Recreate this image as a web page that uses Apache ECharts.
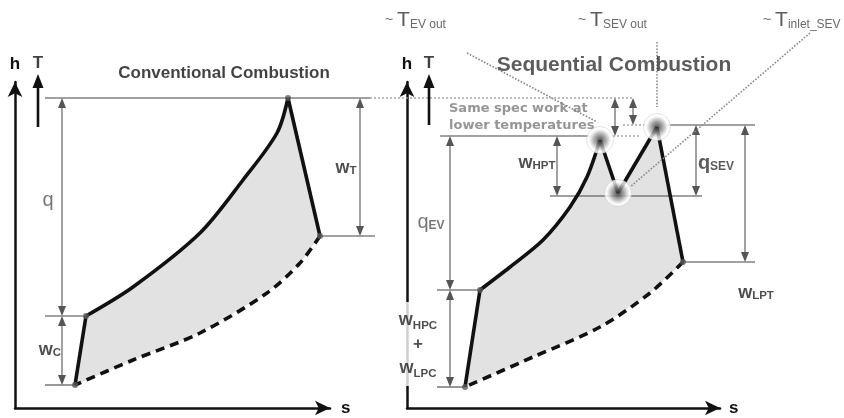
<!DOCTYPE html>
<html>
<head>
<meta charset="utf-8">
<script src="https://cdn.jsdelivr.net/npm/echarts@6/dist/echarts.min.js"></script>
<style>
  html, body { margin: 0; padding: 0; background: #ffffff; }
  #chart { width: 844px; height: 418px; }
</style>
</head>
<body>
<div id="chart"></div>
<script>
// ---- Conventional combustion cycle (h–s plane, diagram units) ----
const convCompression   = [[60, 23], [71, 92]];
const convHeatAddition  = [[71, 92], [118, 121], [185, 175], [228, 228], [262, 275], [273, 310]];
const convExpansion     = [[273, 310], [305, 172]];
const convHeatRejection = [[305, 172], [285, 145], [252, 115], [185, 75], [118, 48], [60, 23]];
const convStates        = [[60, 23], [71, 92], [273, 310], [305, 172]];

// ---- Sequential combustion cycle ----
const seqCompression    = [[58, 21], [73, 118]];
const seqHeatEV         = [[73, 118], [103, 141], [136, 168], [163, 201], [180, 231], [193, 268]];
const seqExpansionHPT   = [[193, 268], [211, 215]];
const seqHeatSEV        = [[211, 215], [250, 281]];
const seqExpansionLPT   = [[250, 281], [276, 146]];
const seqHeatRejection  = [[276, 146], [243, 115], [193, 81], [126, 51], [58, 21]];
const seqStates         = [[73, 118], [276, 146], [58, 21]];
const seqBurnerPoints   = [[193, 268], [250, 281], [211, 215]];

// ---- Reference levels: [sFrom, sTo, h] ----
const convLevels  = [[30, 355, 310], [30, 71, 92], [30, 60, 23], [305, 360, 172]];
const convGuides  = [[355, 618, 310]];
const seqLevels   = [[33, 183, 272], [261, 348, 283], [143, 295, 212], [276, 348, 146], [30, 73, 118], [30, 58, 21]];
const seqGuides   = [[206, 233, 272], [216, 240, 283]];

// ---- Dimension arrows: [s, hTop, hBottom] ----
const convSpans = [[47, 310, 92], [47, 92, 23], [345, 310, 172]];
const seqSpans  = [[43, 272, 118], [43, 118, 21], [150, 272, 212], [289, 283, 212], [338, 283, 146], [208, 310, 272], [226, 310, 283]];

// ---- Temperature axes: [s, hFrom, hTo] ----
const convTAxis = [[23, 281, 334]];
const seqTAxis  = [[22, 283, 334]];

// ---- Leader lines to the burner temperatures: [s1, h1, s2, h2] ----
const seqLeaders = [[60, 355, 190, 286], [250, 366, 250, 301], [403, 375, 223, 221]];

// ---- Text annotations: [s, h, text] ----
const convNotes = [
  [209, 335, '{title|Conventional Combustion}'],
  [23, 345, '{ax|T}'],
  [33, 208, '{q|q}'],
  [35, 58, '{w|w}{ws|C}'],
  [331, 240, '{w|w}{ws|T}']
];
const seqNotes = [
  [207, 343, '{big|Sequential Combustion}'],
  [22, 345, '{ax|T}'],
  [24, 186, '{q|q}{qs|EV}'],
  [130, 245, '{w|w}{ws|HPT}'],
  [309, 245, '{qd|q}{qds|SEV}'],
  [349, 115, '{w|w}{ws|LPT}']
];
const seqNotesLeft = [
  [42, 291, '{gray|Same spec work at}\n{gray|lower temperatures}'],
  [-22, 388, '{t|~ }{T|T}{ts|EV out}'],
  [171, 388, '{t|~ }{T|T}{ts|SEV out}'],
  [356, 388, '{t|~ }{T|T}{ts|inlet_SEV}']
];
const seqCompressorWork = [[11, 64, '{w|w}{ws|HPC}\n{plus|+}\n{w|w}{ws|LPC}']];

const FONT = '"Liberation Sans", Arial, sans-serif';
const WIDE = '"DejaVu Sans", Verdana, sans-serif';
const rich = {
  title: { fontFamily: FONT, fontWeight: 'bold', fontSize: 17, color: '#111' },
  big:   { fontFamily: FONT, fontWeight: 'bold', fontSize: 21, color: '#333' },
  ax:    { fontFamily: FONT, fontWeight: 'bold', fontSize: 17, color: '#111' },
  q:     { fontFamily: FONT, fontSize: 20, color: '#555' },
  qs:    { fontFamily: FONT, fontWeight: 'bold', fontSize: 12, color: '#555', verticalAlign: 'bottom' },
  qd:    { fontFamily: FONT, fontWeight: 'bold', fontSize: 20, color: '#333' },
  qds:   { fontFamily: FONT, fontWeight: 'bold', fontSize: 12, color: '#333', verticalAlign: 'bottom' },
  w:     { fontFamily: FONT, fontWeight: 'bold', fontSize: 18, color: '#222' },
  ws:    { fontFamily: FONT, fontWeight: 'bold', fontSize: 11.5, color: '#222', verticalAlign: 'bottom' },
  plus:  { fontFamily: FONT, fontWeight: 'bold', fontSize: 17, color: '#222' },
  gray:  { fontFamily: WIDE, fontWeight: 'bold', fontSize: 13, color: '#7a7a7a', lineHeight: 17 },
  t:     { fontFamily: FONT, fontSize: 14, color: '#444' },
  T:     { fontFamily: FONT, fontSize: 21, color: '#333' },
  ts:    { fontFamily: FONT, fontSize: 12, color: '#444', verticalAlign: 'bottom' }
};

const INK = '#111';
const DIM = '#555';

function axisOf(grid, max, name, nameGap) {
  return {
    gridIndex: grid, type: 'value', min: 0, max: max,
    name: name, nameLocation: 'end', nameGap: nameGap,
    nameTextStyle: { fontFamily: FONT, fontWeight: 'bold', fontSize: 17, color: INK },
    axisLine: { show: true, onZero: false, symbol: ['none', 'arrow'], symbolSize: [11, 15],
      lineStyle: { color: INK, width: 2.5 } },
    axisTick: { show: false }, axisLabel: { show: false }, splitLine: { show: false }
  };
}

function cycleLine(grid, data, dashed) {
  return {
    type: 'line', xAxisIndex: grid, yAxisIndex: grid, data: data,
    smooth: data.length > 2 ? 0.3 : false,
    symbol: 'none', z: 3, silent: true, clip: false,
    lineStyle: { color: INK, width: 3.6, type: dashed ? [9, 6] : 'solid', cap: 'butt' }
  };
}

function fillSeries(grid, outline) {
  return {
    type: 'custom', xAxisIndex: grid, yAxisIndex: grid, data: [[0, 0]], z: 1, silent: true,
    renderItem: function (params, api) {
      return {
        type: 'polygon',
        shape: { points: outline.map(function (p) { return api.coord(p); }) },
        style: { fill: '#e2e2e2' }
      };
    }
  };
}

function levelSeries(grid, data, dotted) {
  return {
    type: 'custom', xAxisIndex: grid, yAxisIndex: grid, data: data, z: 2, silent: true,
    renderItem: function (params, api) {
      const a = api.coord([api.value(0), api.value(2)]);
      const b = api.coord([api.value(1), api.value(2)]);
      return {
        type: 'line',
        shape: { x1: a[0], y1: a[1], x2: b[0], y2: b[1] },
        style: dotted ? { stroke: '#9a9a9a', lineWidth: 1.3, lineDash: [2, 2] }
                      : { stroke: '#444', lineWidth: 1.1 }
      };
    }
  };
}

function spanSeries(grid, data) {
  return {
    type: 'custom', xAxisIndex: grid, yAxisIndex: grid, data: data, z: 2, silent: true,
    renderItem: function (params, api) {
      const top = api.coord([api.value(0), api.value(1)]);
      const bot = api.coord([api.value(0), api.value(2)]);
      const hw = 4, hl = 10;
      return {
        type: 'group', children: [
          { type: 'line', shape: { x1: top[0], y1: top[1] + 3, x2: bot[0], y2: bot[1] - 3 },
            style: { stroke: DIM, lineWidth: 1.1 } },
          { type: 'polygon', shape: { points: [[top[0], top[1]], [top[0] - hw, top[1] + hl], [top[0] + hw, top[1] + hl]] },
            style: { fill: DIM } },
          { type: 'polygon', shape: { points: [[bot[0], bot[1]], [bot[0] - hw, bot[1] - hl], [bot[0] + hw, bot[1] - hl]] },
            style: { fill: DIM } }
        ]
      };
    }
  };
}

function tAxisSeries(grid, data) {
  return {
    type: 'custom', xAxisIndex: grid, yAxisIndex: grid, data: data, z: 2, silent: true,
    renderItem: function (params, api) {
      const a = api.coord([api.value(0), api.value(1)]);
      const b = api.coord([api.value(0), api.value(2)]);
      return {
        type: 'group', children: [
          { type: 'line', shape: { x1: a[0], y1: a[1], x2: b[0], y2: b[1] + 8 },
            style: { stroke: INK, lineWidth: 2.6 } },
          { type: 'polygon', shape: { points: [[b[0], b[1]], [b[0] - 5.5, b[1] + 14], [b[0] + 5.5, b[1] + 14]] },
            style: { fill: INK } }
        ]
      };
    }
  };
}

function leaderSeries(grid, data) {
  return {
    type: 'custom', xAxisIndex: grid, yAxisIndex: grid, data: data, z: 4, silent: true,
    renderItem: function (params, api) {
      const a = api.coord([api.value(0), api.value(1)]);
      const b = api.coord([api.value(2), api.value(3)]);
      return {
        type: 'line', shape: { x1: a[0], y1: a[1], x2: b[0], y2: b[1] },
        style: { stroke: '#8a8a8a', lineWidth: 1.6, lineDash: [1.6, 1.6] }
      };
    }
  };
}

function stateDots(grid, data) {
  return {
    type: 'scatter', xAxisIndex: grid, yAxisIndex: grid, data: data, z: 4, silent: true,
    symbolSize: 6, itemStyle: { color: '#5a5a5a' }
  };
}

function noteSeries(grid, notes, align, extraLabel) {
  return {
    type: 'scatter', xAxisIndex: grid, yAxisIndex: grid, z: 8, silent: true, clip: false,
    symbolSize: 0,
    data: notes.map(function (n) { return { value: [n[0], n[1]], text: n[2] }; }),
    label: Object.assign({
      show: true, position: 'inside', align: align, verticalAlign: 'middle',
      formatter: function (p) { return p.data.text; }, rich: rich
    }, extraLabel || {})
  };
}

const chart = echarts.init(document.getElementById('chart'), null, { renderer: 'canvas' });

chart.setOption({
  backgroundColor: '#ffffff',
  animation: false,
  grid: [
    { left: 15, top: 82, width: 315, height: 326 },
    { left: 407, top: 82, width: 313, height: 326 }
  ],
  xAxis: [axisOf(0, 315, 's', 11), axisOf(1, 313, 's', 9)],
  yAxis: [axisOf(0, 326, 'h', 9), axisOf(1, 326, 'h', 9)],
  series: [
    // shaded cycle areas
    fillSeries(0, [].concat(convCompression, convHeatAddition.slice(1), convExpansion.slice(1), convHeatRejection.slice(1))),
    fillSeries(1, [].concat(seqCompression, seqHeatEV.slice(1), seqExpansionHPT.slice(1), seqHeatSEV.slice(1), seqExpansionLPT.slice(1), seqHeatRejection.slice(1))),

    // reference levels and dimension arrows
    levelSeries(0, convLevels, false),
    levelSeries(0, convGuides, true),
    levelSeries(1, seqLevels, false),
    levelSeries(1, seqGuides, true),
    spanSeries(0, convSpans),
    spanSeries(1, seqSpans),
    tAxisSeries(0, convTAxis),
    tAxisSeries(1, seqTAxis),

    // conventional cycle
    cycleLine(0, convCompression, false),
    cycleLine(0, convHeatAddition, false),
    cycleLine(0, convExpansion, false),
    cycleLine(0, convHeatRejection, true),
    stateDots(0, convStates),

    // sequential cycle
    cycleLine(1, seqCompression, false),
    cycleLine(1, seqHeatEV, false),
    cycleLine(1, seqExpansionHPT, false),
    cycleLine(1, seqHeatSEV, false),
    cycleLine(1, seqExpansionLPT, false),
    cycleLine(1, seqHeatRejection, true),
    stateDots(1, seqStates),
    leaderSeries(1, seqLeaders),

    // burner outlet / inlet temperature markers
    {
      type: 'scatter', xAxisIndex: 1, yAxisIndex: 1, data: seqBurnerPoints, z: 6, silent: true,
      symbolSize: 27,
      itemStyle: {
        borderColor: 'rgba(190,190,190,0.7)', borderWidth: 0.8,
        color: {
          type: 'radial', x: 0.5, y: 0.5, r: 0.5,
          colorStops: [
            { offset: 0, color: '#2e2e2e' },
            { offset: 0.2, color: '#5e5e5e' },
            { offset: 0.48, color: '#a8a8a8' },
            { offset: 0.7, color: '#e8e8e8' },
            { offset: 0.8, color: '#ffffff' },
            { offset: 1, color: '#ffffff' }
          ]
        }
      }
    },

    // annotations
    noteSeries(0, convNotes, 'center'),
    noteSeries(1, seqNotes, 'center'),
    noteSeries(1, seqNotesLeft, 'left'),
    noteSeries(1, seqCompressorWork, 'center', { backgroundColor: '#ffffff', padding: [6, 2, 6, 2], lineHeight: 24 })
  ]
});
</script>
</body>
</html>
